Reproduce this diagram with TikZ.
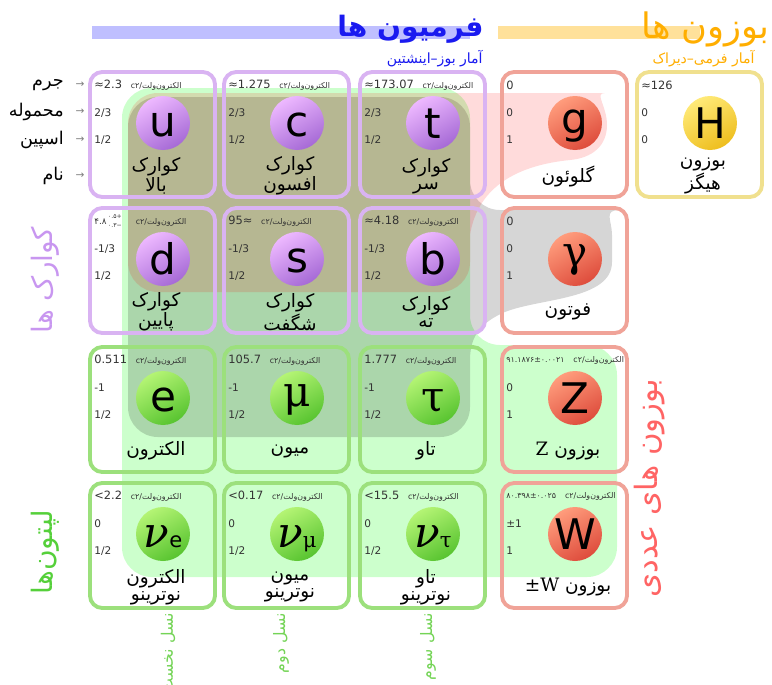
\documentclass[tikz,border=0pt]{standalone}
\usepackage{fontspec}
\setmainfont{DejaVu Sans}
\newfontfamily\fafont[Script=Arabic]{DejaVu Sans}
\newfontfamily\grfont{DejaVu Serif}
\TeXXeTstate=1
\usetikzlibrary{positioning}
\definecolor{QuarkEdge}{HTML}{D9B3F2}
\definecolor{QuarkLight}{HTML}{EDB8FF}
\definecolor{QuarkDark}{HTML}{A66AD6}
\definecolor{LeptonEdge}{HTML}{9CE07C}
\definecolor{LeptonLight}{HTML}{B4F474}
\definecolor{LeptonDark}{HTML}{58C430}
\definecolor{GaugeEdge}{HTML}{F0A398}
\definecolor{GaugeLight}{HTML}{FF9C7C}
\definecolor{GaugeDark}{HTML}{DE4C3C}
\definecolor{HiggsEdge}{HTML}{F0E08E}
\definecolor{HiggsLight}{HTML}{FFEA78}
\definecolor{HiggsDark}{HTML}{EEBE1E}
\definecolor{FermiBlue}{HTML}{1A1AF0}
\definecolor{FermiBar}{HTML}{BFBFFF}
\definecolor{BoseOrange}{HTML}{FFAE00}
\definecolor{BoseBar}{HTML}{FFE19A}
\definecolor{QuarkText}{HTML}{C896F0}
\definecolor{LeptonText}{HTML}{55D03A}
\definecolor{GaugeText}{HTML}{FF6464}
\definecolor{GenGreen}{HTML}{74D456}
\definecolor{TextGrey}{HTML}{333333}

\newcommand{\fa}[1]{{\fafont\beginR #1\endR}}
\newcommand{\unitfa}{{\fafont\fontsize{4.5}{5}\selectfont c۲/\beginR الکترون‌ولت\endR}}
% one cell of the table: name, x, y, family, symbol, mass, charge, spin, label
\newcommand{\particlebox}[9]{%
  \draw[#4box] (#2,#3) rectangle ++(125,125);
  \node[#4ball] (#1) at (#2+73,#3+51) {};
  \node[symnode] (#1-sym) at (#2+73,#3+64) {#5};
  \node[massnode] (#1-mass) at (#2+4,#3+13) {#6};
  \node[valnode] (#1-charge) at (#2+4,#3+41) {#7};
  \node[valnode] (#1-spin) at (#2+4,#3+68) {#8};
  \node[namenode] (#1-name) at (#2+66,#3+104) {#9};
}

\begin{document}
\begin{tikzpicture}[x=0.02cm,y=-0.02cm,
  cellbox/.style={line width=2.2pt,rounded corners=7pt},
  qbox/.style={cellbox,draw=QuarkEdge},
  lbox/.style={cellbox,draw=LeptonEdge},
  bbox/.style={cellbox,draw=GaugeEdge},
  hbox/.style={cellbox,draw=HiggsEdge},
  particle/.style={circle,inner sep=0pt,minimum size=1.08cm},
  qball/.style={particle,top color=QuarkLight,bottom color=QuarkDark,shading angle=30},
  lball/.style={particle,top color=LeptonLight,bottom color=LeptonDark,shading angle=30},
  bball/.style={particle,top color=GaugeLight,bottom color=GaugeDark,shading angle=30},
  hball/.style={particle,top color=HiggsLight,bottom color=HiggsDark,shading angle=30},
  symnode/.style={anchor=base,inner sep=0pt,font=\fontsize{24}{24}\selectfont},
  massnode/.style={anchor=west,inner sep=0pt,text=TextGrey,font=\fontsize{6.5}{7}\selectfont},
  valnode/.style={anchor=west,inner sep=0pt,text=TextGrey,font=\fontsize{6}{7}\selectfont},
  namenode/.style={align=center,inner sep=0pt,font=\fafont\fontsize{10.5}{9.5}\selectfont},
  weakfill/.style={fill=green,fill opacity=.2},
  emfill/.style={fill=black,fill opacity=.16},
  strongfill/.style={fill=red,fill opacity=.14},
  title/.style={anchor=east,inner sep=0pt},
  subtitle/.style={anchor=east,inner sep=0pt,font=\fafont\fontsize{8}{9}\selectfont},
  grouplabel/.style={rotate=90,inner sep=0pt,font=\fafont\fontsize{16}{17}\selectfont},
  genlabel/.style={rotate=90,anchor=east,inner sep=0pt,text=GenGreen,font=\fafont\fontsize{9}{10}\selectfont}]
\useasboundingbox (0,0) rectangle (772,684);
\clip (0,0) rectangle (772,684);
\fill[white] (0,0) rectangle (772,684);

% force regions
\fill[weakfill] (300,88) [rounded corners=17pt] -- (470,88) -- (470,345) -- (617,345) -- (617,577) -- (122,577) -- (122,88) -- cycle;
\fill[emfill] (300,97) [rounded corners=17pt] -- (470,97) -- (470,210) -- (590,210) [sharp corners] .. controls (603,210) and (612,220) .. (612,235) -- (612,262) .. controls (612,300) and (540,298) .. (505,312) .. controls (482,322) and (470,335) .. (470,360) [rounded corners=17pt] -- (470,437) -- (128,437) -- (128,97) -- cycle;
\fill[strongfill] (300,93) [rounded corners=17pt] -- (575,93) [sharp corners] .. controls (594,93) and (607,106) .. (607,125) .. controls (607,146) and (592,158) .. (570,160) .. controls (520,165) and (478,185) .. (470,235) [rounded corners=17pt] -- (470,292) -- (128,292) -- (128,93) -- cycle;

% headings
\fill[FermiBar] (92,26) rectangle (470,39);
\node[title,text=FermiBlue,font=\fafont\bfseries\fontsize{16}{17}\selectfont] (fermions) at (484,29) {\fa{فرمیون ها}};
\node[subtitle,text=FermiBlue] (fermistat) at (483,59) {\fa{آمار بوز–اینشتین}};
\fill[BoseBar] (498,26) rectangle (700,39);
\node[title,text=BoseOrange,font=\fafont\fontsize{20}{21}\selectfont] (bosons) at (770,29) {\fa{بوزون ها}};
\node[subtitle,text=BoseOrange] (bosestat) at (755,59) {\fa{آمار فرمی–دیراک}};

% row labels
\foreach \lbl/\ly in {جرم/85,محموله/112,اسپین/140,نام/176}{
  \node[anchor=east,inner sep=0pt,font=\fafont\fontsize{10}{11}\selectfont] (row-\ly) at (64,\ly) {\fa{\lbl}};
  \node[inner sep=0pt,text=gray,font=\fontsize{6}{7}\selectfont] (arrow-\ly) at (80,\ly) {→};
}

% quarks
\particlebox{u}{90}{72}{q}{u}{≈2.3\hspace{5pt}\unitfa}{2/3}{1/2}{\fa{کوارک}\\\fa{بالا}}
\particlebox{c}{224}{72}{q}{c}{≈1.275\hspace{5pt}\unitfa}{2/3}{1/2}{\fa{کوارک}\\\fa{افسون}}
\particlebox{t}{360}{72}{q}{\raisebox{-1.7pt}{t}}{≈173.07\hspace{5pt}\unitfa}{2/3}{1/2}{\fa{کوارک}\\\fa{سر}}
\particlebox{d}{90}{208}{q}{\raisebox{-1.7pt}{d}}{{\fafont\fontsize{5}{5}\selectfont ۴.۸\,{\fontsize{3.5}{3.5}\selectfont\raisebox{-1.8pt}{\shortstack{+۰.۵\\−۰.۳}}}}\hspace{8pt}\unitfa}{-1/3}{1/2}{\fa{کوارک}\\\fa{پایین}}
\particlebox{s}{224}{208}{q}{s}{95≈\hspace{5pt}\unitfa}{-1/3}{1/2}{\fa{کوارک}\\\fa{شگفت}}
\particlebox{b}{360}{208}{q}{\raisebox{-1.7pt}{b}}{≈4.18\hspace{5pt}\unitfa}{-1/3}{1/2}{\fa{کوارک}\\\fa{ته}}

% leptons
\particlebox{e}{90}{347}{l}{e}{0.511\hspace{5pt}\unitfa}{-1}{1/2}{\fa{الکترون}}
\particlebox{mu}{224}{347}{l}{\raisebox{2.5pt}{\grfont μ}}{105.7\hspace{5pt}\unitfa}{-1}{1/2}{\fa{میون}}
\particlebox{tau}{360}{347}{l}{{\grfont τ}}{1.777\hspace{5pt}\unitfa}{-1}{1/2}{\fa{تاو}}
\particlebox{nue}{90}{483}{l}{{\grfont\itshape ν}{\fontsize{12}{12}\selectfont e}}{<2.2\hspace{5pt}\unitfa}{0}{1/2}{\fa{الکترون}\\\fa{نوترینو}}
\particlebox{numu}{224}{483}{l}{{\grfont\itshape ν}{\grfont\fontsize{12}{12}\selectfont μ}}{<0.17\hspace{5pt}\unitfa}{0}{1/2}{\fa{میون}\\\fa{نوترینو}}
\particlebox{nutau}{360}{483}{l}{{\grfont\itshape ν}{\grfont\fontsize{12}{12}\selectfont τ}}{<15.5\hspace{5pt}\unitfa}{0}{1/2}{\fa{تاو}\\\fa{نوترینو}}

% gauge bosons and higgs
\particlebox{g}{502}{72}{b}{\raisebox{1.5pt}{g}}{0}{0}{1}{\fa{گلوئون}}
\particlebox{gamma}{502}{208}{b}{\raisebox{3pt}{\grfont γ}}{0}{0}{1}{\fa{فوتون}}
\particlebox{Z}{502}{347}{b}{\raisebox{-1.7pt}{Z}}{{\fafont\fontsize{4.5}{5}\selectfont ۹۱.۱۸۷۶±۰.۰۰۲۱}\hspace{5pt}\unitfa}{0}{1}{\fa{بوزون {\grfont Z}}}
\particlebox{W}{502}{483}{b}{\raisebox{-1.7pt}{W}}{{\fafont\fontsize{4.5}{5}\selectfont ۸۰.۳۹۸±۰.۰۲۵}\hspace{5pt}\unitfa}{±1}{1}{{\fafont\beginR بوزون \beginL{\grfont ±W}\endL\endR}}
\particlebox{H}{637}{72}{h}{\raisebox{-1.7pt}{H}}{≈126}{0}{0}{\fa{بوزون}\\\fa{هیگز}}

% group labels
\node[grouplabel,text=QuarkText] (quarks) at (45,280) {\fa{کوارک ها}};
\node[grouplabel,text=LeptonText] (leptons) at (45,552) {\fa{لپتون‌ها}};
\node[grouplabel,text=GaugeText,font=\fafont\fontsize{17.5}{18}\selectfont] (gauge) at (650,488) {\fa{بوزون های عددی}};
\node[genlabel] (gen1) at (168,613) {\fa{نسل نخست}};
\node[genlabel] (gen2) at (281,613) {\fa{نسل دوم}};
\node[genlabel] (gen3) at (428,613) {\fa{نسل سوم}};
\end{tikzpicture}
\end{document}
